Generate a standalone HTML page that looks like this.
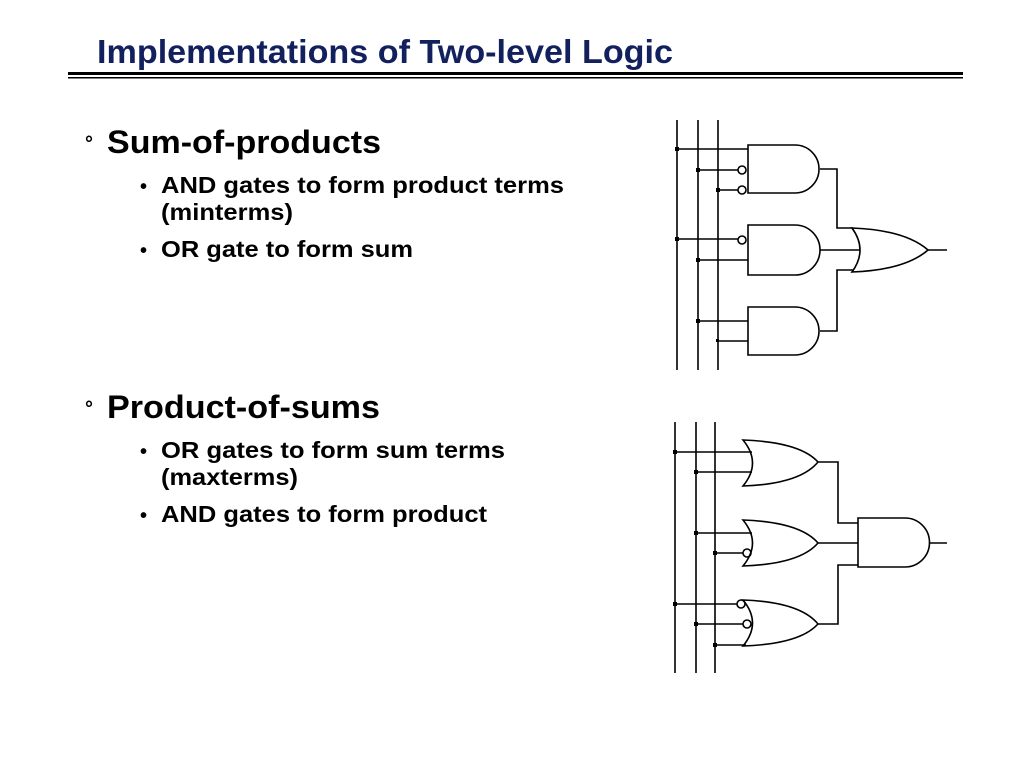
<!DOCTYPE html>
<html><head><style>body{margin:0;background:#fff}svg{display:block}</style></head><body>
<svg width="1024" height="768" viewBox="0 0 1024 768" xmlns="http://www.w3.org/2000/svg" font-family="Liberation Sans, Arial, sans-serif" font-weight="bold">
<text x="97" y="63" font-size="33" fill="#13205e" textLength="576" lengthAdjust="spacingAndGlyphs">Implementations of Two-level Logic</text>
<rect x="68" y="72" width="895" height="3" fill="#000"/>
<rect x="68" y="77" width="895" height="1.5" fill="#000"/>
<g fill="#000">
<text x="85" y="150" font-size="20">°</text>
<text x="107" y="153" font-size="32" textLength="274" lengthAdjust="spacingAndGlyphs">Sum-of-products</text>
<text x="140" y="193" font-size="20">•</text>
<text x="161" y="193" font-size="23" textLength="403" lengthAdjust="spacingAndGlyphs">AND gates to form product terms</text>
<text x="161" y="220" font-size="23" textLength="132" lengthAdjust="spacingAndGlyphs">(minterms)</text>
<text x="140" y="257" font-size="20">•</text>
<text x="161" y="257" font-size="23" textLength="252" lengthAdjust="spacingAndGlyphs">OR gate to form sum</text>
<text x="85" y="415" font-size="20">°</text>
<text x="107" y="418" font-size="32" textLength="273" lengthAdjust="spacingAndGlyphs">Product-of-sums</text>
<text x="140" y="458" font-size="20">•</text>
<text x="161" y="458" font-size="23" textLength="344" lengthAdjust="spacingAndGlyphs">OR gates to form sum terms</text>
<text x="161" y="485" font-size="23" textLength="137" lengthAdjust="spacingAndGlyphs">(maxterms)</text>
<text x="140" y="522" font-size="20">•</text>
<text x="161" y="522" font-size="23" textLength="326" lengthAdjust="spacingAndGlyphs">AND gates to form product</text>
</g>
<g stroke="#000" stroke-width="1.6" fill="none">
<path d="M677 120V370M698 120V370M718 120V370"/>
<path d="M677 149H748M698 170H738M718 190H738M677 239H738M698 260H748M698 321H748M718 341H748"/>
<circle cx="742" cy="170" r="4"/><circle cx="742" cy="190" r="4"/><circle cx="742" cy="240" r="4"/>
<path d="M748 145H795A24 24 0 0 1 795 193H748Z"/>
<path d="M748 225H795A25 25 0 0 1 795 275H748Z"/>
<path d="M748 307H795A24 24 0 0 1 795 355H748Z"/>
<path d="M820 169H837V228H853M820 250H860M820 331H837V270H853"/>
<path d="M852 228Q868 250 852 272Q905 270 928 250Q905 230 852 228Z"/>
<path d="M928 250H947"/>
<path d="M675 422V673M696 422V673M715 422V673"/>
<path d="M675 452H752M696 472H752M696 533H752M715 553H743M675 604H737M696 624H743M715 645H746"/>
<circle cx="747" cy="553" r="4"/><circle cx="741" cy="604" r="4"/><circle cx="747" cy="624" r="4"/>
<path d="M743 440Q762 463 743 486Q800 484 818 462Q800 442 743 440Z"/>
<path d="M743 520Q762 543 743 566Q800 564 818 543Q800 522 743 520Z"/>
<path d="M743 600Q762 623 743 646Q800 644 818 624Q800 602 743 600Z"/>
<path d="M818 462H838V523H858M818 543H858M818 624H838V565H858"/>
<path d="M858 518H905A24.5 24.5 0 0 1 905 567H858Z"/>
<path d="M930 543H947"/>
</g>
<g fill="#000">
<rect x="675" y="147" width="4" height="4"/><rect x="696" y="168" width="4" height="4"/><rect x="716" y="188" width="4" height="4"/>
<rect x="675" y="237" width="4" height="4"/><rect x="696" y="258" width="4" height="4"/>
<rect x="696" y="319" width="4" height="4"/><rect x="716" y="339" width="3" height="3"/>
<rect x="673" y="450" width="4" height="4"/><rect x="694" y="470" width="4" height="4"/>
<rect x="694" y="531" width="4" height="4"/><rect x="713" y="551" width="4" height="4"/>
<rect x="673" y="602" width="4" height="4"/><rect x="694" y="622" width="4" height="4"/><rect x="713" y="643" width="4" height="4"/>
</g>
</svg>
</body></html>
